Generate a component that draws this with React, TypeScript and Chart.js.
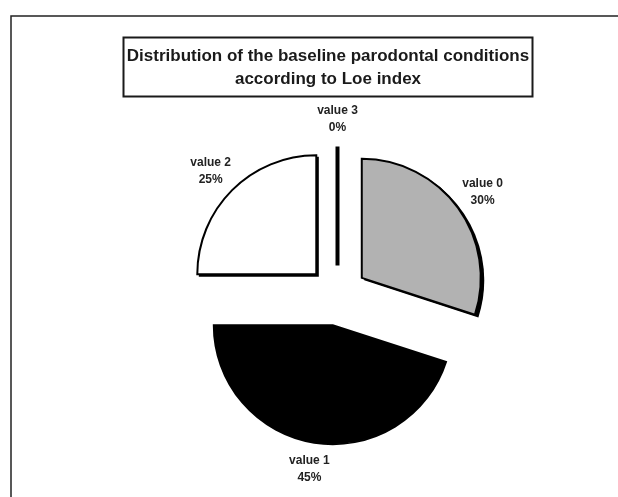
import { useEffect, useRef } from "react";
import { Chart, registerables } from "chart.js";

Chart.register(...registerables);

const categories = ["value 0", "value 1", "value 2", "value 3"];
const shares = [30, 45, 25, 0];
const fills = ["#b2b2b2", "#000000", "#ffffff", "#000000"];
const titleLines = [
  "Distribution of the baseline parodontal conditions",
  "according to Loe index",
];

const EXPLODE = 30;
const RADIUS = 119;
const SHADOW = 2.5;
const LABEL_GAP = 10;
const LINE_H = 17;
const FONT = '"Liberation Sans", Arial, sans-serif';

const explodePlugin = {
  id: "explode",
  afterDatasetUpdate(chart: any, args: any) {
    const meta = chart.getDatasetMeta(args.index);
    meta.data.forEach((arc: any) => {
      const mid = (arc.startAngle + arc.endAngle) / 2;
      arc.x += Math.cos(mid) * EXPLODE;
      arc.y += Math.sin(mid) * EXPLODE;
    });
  },
};

const framePlugin = {
  id: "frame",
  beforeDraw(chart: any) {
    const ctx = chart.ctx;
    ctx.save();
    ctx.fillStyle = "#ffffff";
    ctx.fillRect(0, 0, chart.width, chart.height);
    ctx.strokeStyle = "#222222";
    ctx.lineWidth = 1.5;
    ctx.beginPath();
    ctx.moveTo(11, chart.height);
    ctx.lineTo(11, 16);
    ctx.lineTo(chart.width, 16);
    ctx.stroke();
    ctx.restore();
  },
  afterDraw(chart: any) {
    const ctx = chart.ctx;
    ctx.save();
    ctx.strokeStyle = "#1a1a1a";
    ctx.lineWidth = 2;
    ctx.strokeRect(123.5, 37.5, 409, 59);
    ctx.fillStyle = "#1a1a1a";
    ctx.font = `bold 17px ${FONT}`;
    ctx.textAlign = "center";
    ctx.textBaseline = "middle";
    titleLines.forEach((t, i) => ctx.fillText(t, 328, 56 + i * 23));
    ctx.restore();
  },
};

const shadowPlugin = {
  id: "sliceShadow",
  beforeDatasetDraw(chart: any, args: any) {
    const ctx = chart.ctx;
    const meta = chart.getDatasetMeta(args.index);
    ctx.save();
    ctx.fillStyle = "#000000";
    meta.data.forEach((arc: any, i: number) => {
      if (arc.circumference <= 0 || fills[i] === "#000000") return;
      ctx.beginPath();
      ctx.moveTo(arc.x + SHADOW, arc.y + SHADOW);
      ctx.arc(arc.x + SHADOW, arc.y + SHADOW, arc.outerRadius + 1, arc.startAngle, arc.endAngle);
      ctx.closePath();
      ctx.fill();
    });
    ctx.restore();
  },
  afterDatasetDraw(chart: any, args: any) {
    const ctx = chart.ctx;
    const meta = chart.getDatasetMeta(args.index);
    ctx.save();
    ctx.strokeStyle = "#000000";
    ctx.lineWidth = 4;
    ctx.lineCap = "butt";
    meta.data.forEach((arc: any) => {
      if (arc.circumference > 0) return;
      const a = arc.startAngle;
      ctx.beginPath();
      ctx.moveTo(arc.x, arc.y);
      ctx.lineTo(arc.x + Math.cos(a) * arc.outerRadius, arc.y + Math.sin(a) * arc.outerRadius);
      ctx.stroke();
    });
    ctx.restore();
  },
};

const labelPlugin = {
  id: "sliceLabels",
  afterDatasetsDraw(chart: any) {
    const ctx = chart.ctx;
    const meta = chart.getDatasetMeta(0);
    const total = shares.reduce((s, v) => s + v, 0);
    ctx.save();
    ctx.fillStyle = "#222222";
    ctx.font = `bold 12px ${FONT}`;
    ctx.textAlign = "center";
    ctx.textBaseline = "middle";
    meta.data.forEach((arc: any, i: number) => {
      const mid = (arc.startAngle + arc.endAngle) / 2;
      const pct = Math.round((shares[i] / total) * 100) + "%";
      const w = Math.max(ctx.measureText(categories[i]).width, ctx.measureText(pct).width);
      const h = LINE_H * 2;
      const d = arc.outerRadius + LABEL_GAP;
      const lx = arc.x + Math.cos(mid) * (d + w / 2);
      const ly = arc.y + Math.sin(mid) * d + Math.sin(mid) * (h / 2);
      ctx.fillText(categories[i], lx, ly - LINE_H / 2);
      ctx.fillText(pct, lx, ly + LINE_H / 2);
    });
    ctx.restore();
  },
};

export default function App() {
  const ref = useRef<HTMLCanvasElement | null>(null);

  useEffect(() => {
    if (!ref.current) return;
    const chart = new Chart(ref.current, {
      type: "pie",
      data: {
        labels: categories,
        datasets: [
          {
            data: shares,
            backgroundColor: fills,
            borderColor: "#000000",
            borderWidth: 2,
            borderJoinStyle: "miter",
            offset: 0,
            hoverOffset: 0,
          } as any,
        ],
      },
      options: {
        responsive: false,
        maintainAspectRatio: false,
        animation: false,
        radius: RADIUS,
        layout: { padding: { left: 67, right: 10, top: 104, bottom: 10 } },
        plugins: {
          legend: { display: false },
          tooltip: { enabled: false },
          title: { display: false },
        },
        events: [],
      } as any,
      plugins: [framePlugin, explodePlugin, shadowPlugin, labelPlugin],
    });
    return () => chart.destroy();
  }, []);

  return (
    <div style={{ position: "fixed", left: 0, top: 0, width: 618, height: 497, background: "#fff" }}>
      <canvas ref={ref} width={618} height={497} style={{ display: "block", width: 618, height: 497 }} />
    </div>
  );
}
